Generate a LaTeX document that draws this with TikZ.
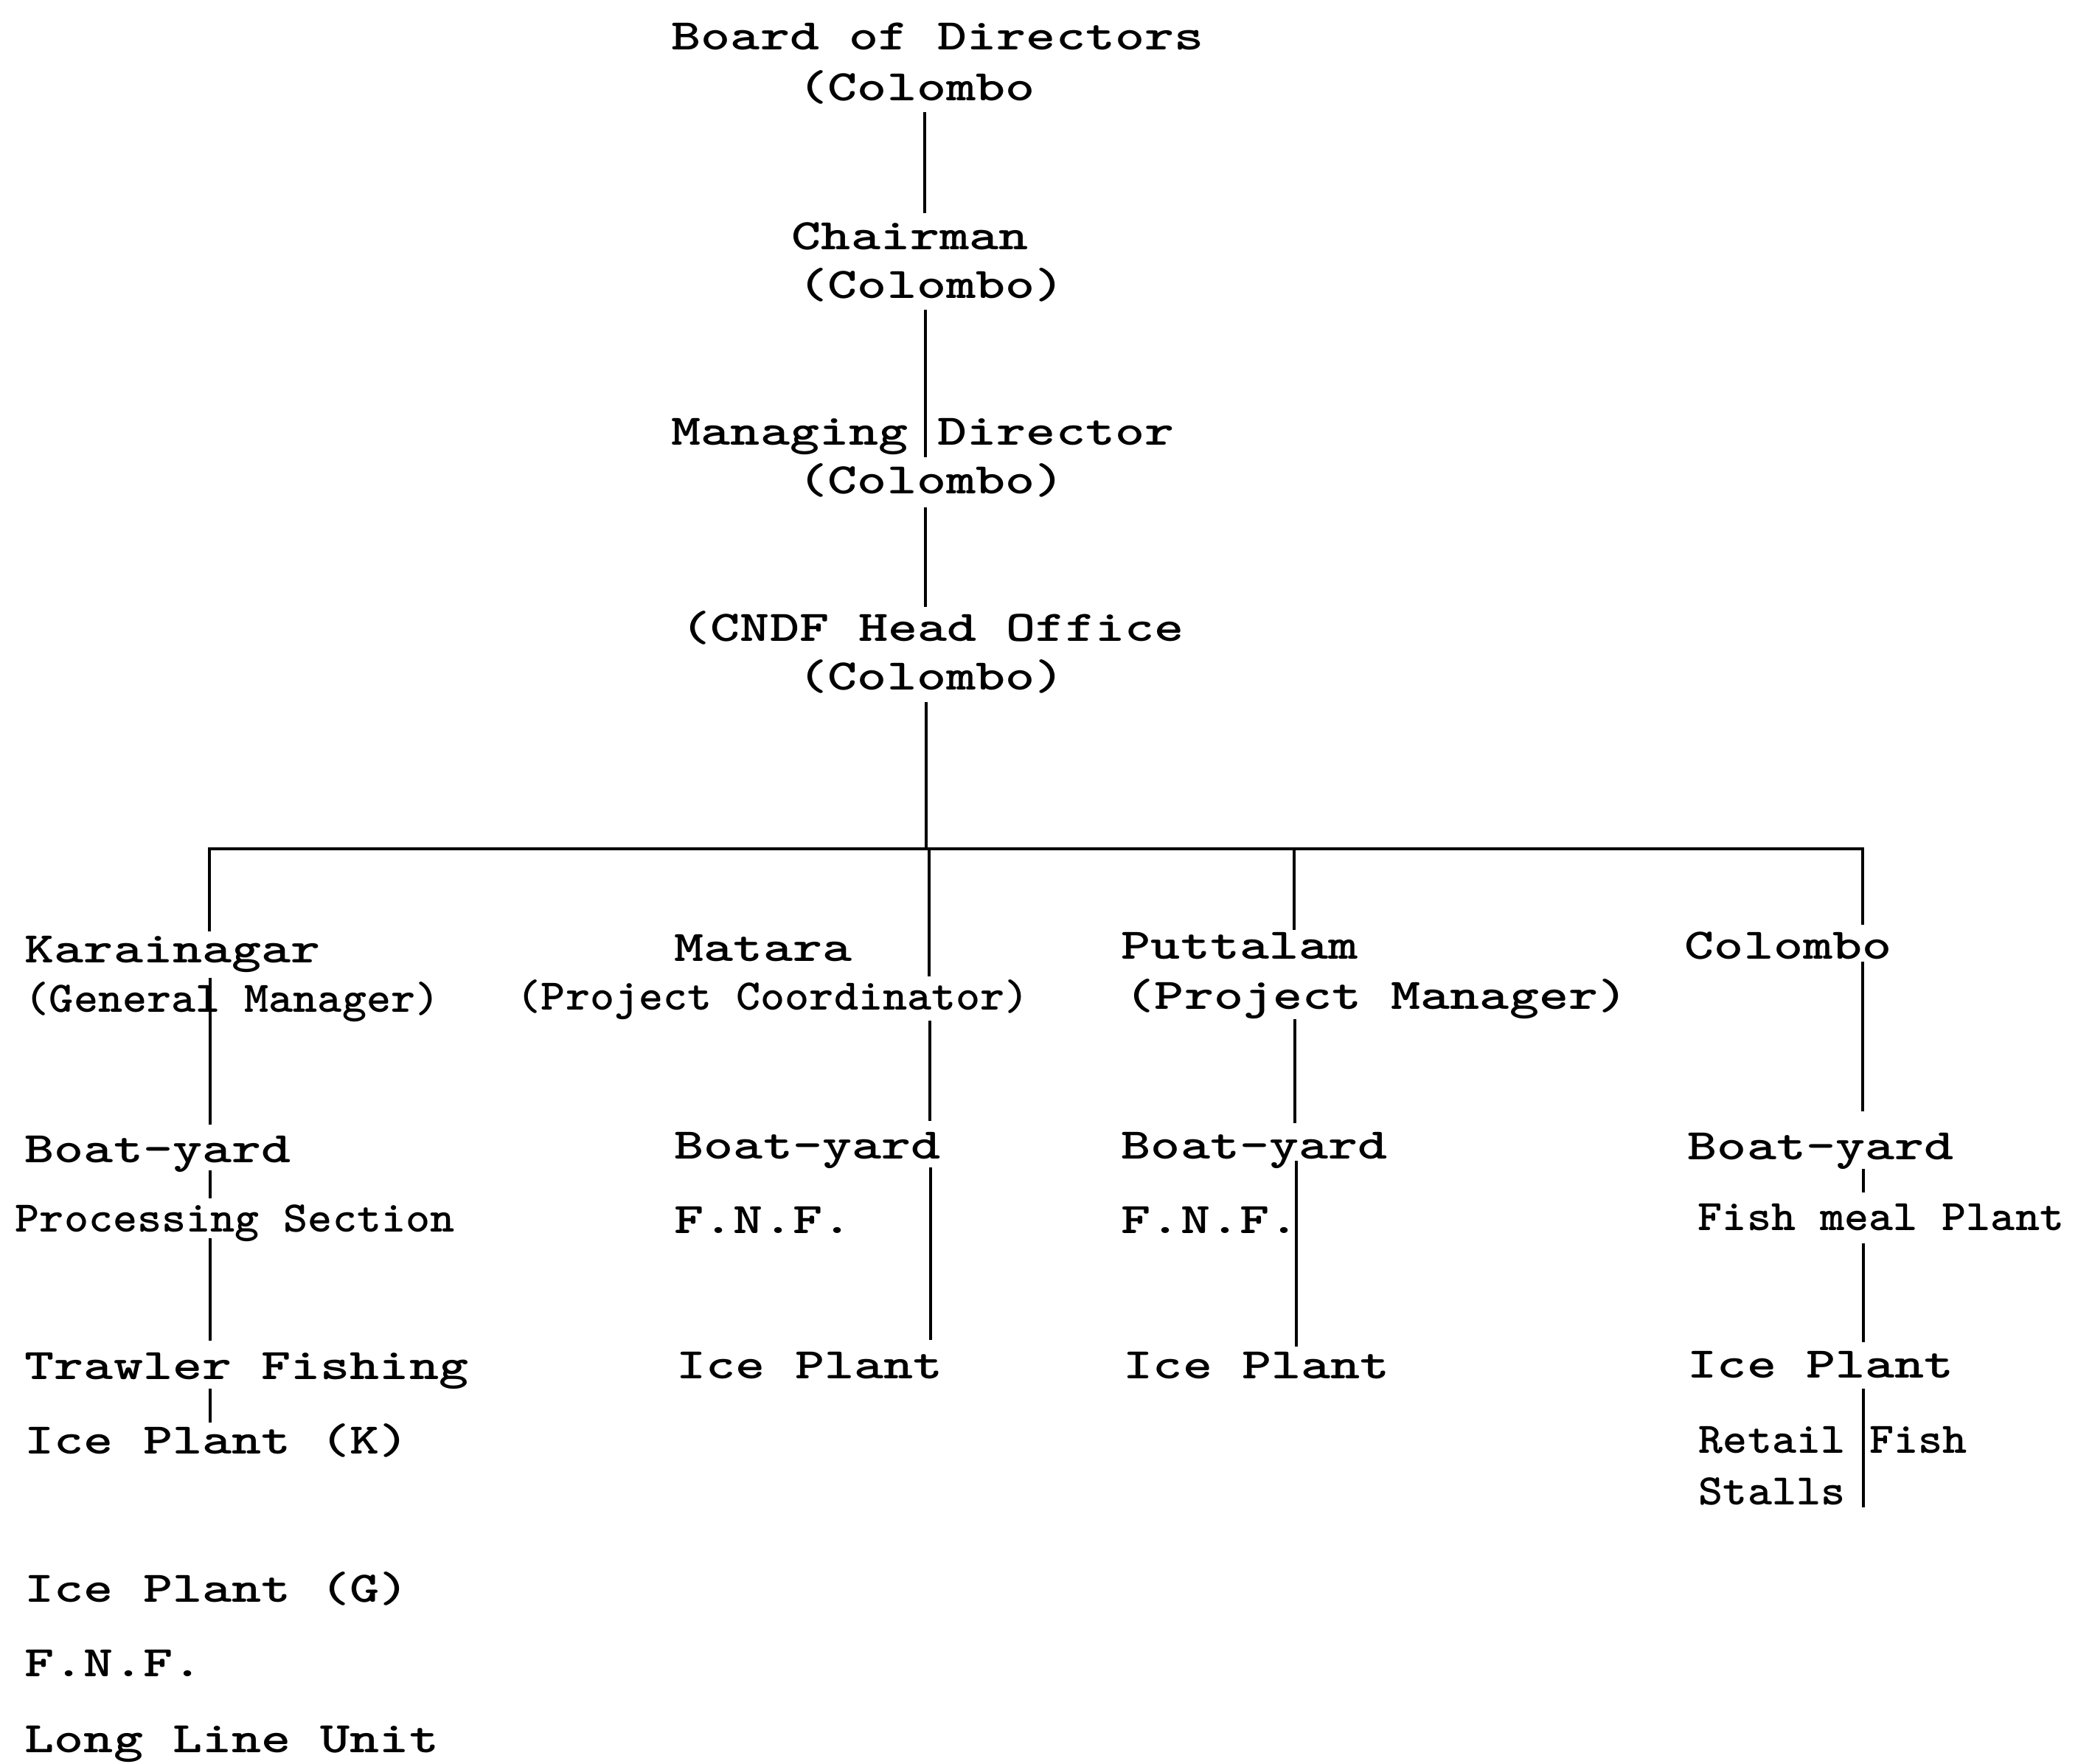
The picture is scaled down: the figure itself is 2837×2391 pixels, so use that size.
\documentclass[tikz,border=0pt]{standalone}
\usepackage{fontspec}
\newfontfamily\tw{lmmonolt10-bold.otf}[FakeStretch=1.29]
\newfontfamily\twn{lmmonolt10-bold.otf}[FakeStretch=1.065]
\begin{document}
\begin{tikzpicture}[x=0.25pt,y=-0.25pt,
  lbl/.style={anchor=base west, inner sep=0pt, font=\fontsize{14.8pt}{16pt}\tw},
  nlbl/.style={anchor=base west, inner sep=0pt, font=\fontsize{14.8pt}{16pt}\twn},
  conn/.style={line width=0.9pt},
  barline/.style={line width=1.1pt}]
\useasboundingbox (0,0) rectangle (2837,2391);
\fill[white] (0,0) rectangle (2837,2391);
% top chain
\node[lbl] (board) at (910,67) {Board of Directors};
\node[lbl] (boardc) at (1082,136) {(Colombo};
\node[lbl] (chair) at (1073,338) {Chairman};
\node[lbl] (chairc) at (1082,404) {(Colombo)};
\node[lbl] (md) at (910,603) {Managing Director};
\node[lbl] (mdc) at (1082,669) {(Colombo)};
\node[lbl] (cndf) at (923,869) {(CNDF Head Office};
\node[lbl] (cndfc) at (1082,935) {(Colombo)};
% Karainagar
\node[lbl] (kar) at (33,1305) {Karainagar};
\node[nlbl] (karm) at (33,1372) {(General Manager)};
\node[lbl] (kby) at (33,1576) {Boat-yard};
\node[nlbl] (kps) at (20,1670) {Processing Section};
\node[lbl] (ktf) at (33,1870) {Trawler Fishing};
\node[lbl] (kipk) at (33,1971) {Ice Plant (K)};
\node[lbl] (kipg) at (33,2172) {Ice Plant (G)};
\node[lbl] (kfnf) at (33,2273) {F.N.F.};
\node[lbl] (kllu) at (33,2376) {Long Line Unit};
% Matara
\node[lbl] (mat) at (914,1303) {Matara};
\node[nlbl] (matm) at (700,1369) {(Project Coordinator)};
\node[lbl] (mby) at (914,1571) {Boat-yard};
\node[lbl] (mfnf) at (914,1672) {F.N.F.};
\node[lbl] (mip) at (917,1869) {Ice Plant};
% Puttalam
\node[lbl] (put) at (1520,1300) {Puttalam};
\node[lbl] (putm) at (1525,1368) {(Project Manager)};
\node[lbl] (pby) at (1520,1571) {Boat-yard};
\node[lbl] (pfnf) at (1520,1672) {F.N.F.};
\node[lbl] (pip) at (1523,1869) {Ice Plant};
% Colombo
\node[lbl] (col) at (2284,1300) {Colombo};
\node[lbl] (cby) at (2288,1572) {Boat-yard};
\node[nlbl] (cfm) at (2302,1668) {Fish meal Plant};
\node[lbl] (cip) at (2288,1868) {Ice Plant};
\node[nlbl] (crf) at (2303,1970) {Retail Fish};
\node[nlbl] (cst) at (2303,2040) {Stalls};
% coordinates
\coordinate (t1a) at (1254,152); \coordinate (t1b) at (1254,289);
\coordinate (t2a) at (1255,420); \coordinate (t2b) at (1255,620);
\coordinate (t3a) at (1255,688); \coordinate (t3b) at (1255,823);
\coordinate (t4a) at (1256,952); \coordinate (t4b) at (1256,1151);
\coordinate (barL) at (284,1151); \coordinate (barR) at (2526,1151);
\coordinate (k1) at (284,1263);
\coordinate (k2a) at (285,1326); \coordinate (k2b) at (285,1525);
\coordinate (k3a) at (285,1587); \coordinate (k3b) at (285,1625);
\coordinate (k4a) at (285,1679); \coordinate (k4b) at (285,1818);
\coordinate (k5a) at (285,1883); \coordinate (k5b) at (285,1929);
\coordinate (m1a) at (1260,1151); \coordinate (m1b) at (1260,1324);
\coordinate (m2a) at (1261,1384); \coordinate (m2b) at (1261,1520);
\coordinate (m3a) at (1262,1583); \coordinate (m3b) at (1262,1817);
\coordinate (p1a) at (1755,1151); \coordinate (p1b) at (1755,1261);
\coordinate (p2a) at (1756,1382); \coordinate (p2b) at (1756,1523);
\coordinate (p3a) at (1758,1574); \coordinate (p3b) at (1758,1826);
\coordinate (c1) at (2526,1254);
\coordinate (c2a) at (2526,1304); \coordinate (c2b) at (2526,1507);
\coordinate (c3a) at (2527,1585); \coordinate (c3b) at (2527,1617);
\coordinate (c4a) at (2527,1686); \coordinate (c4b) at (2527,1820);
\coordinate (c5a) at (2527,1883); \coordinate (c5b) at (2527,2044);
% connectors
\draw[conn] (t1a) -- (t1b);
\draw[conn] (t2a) -- (t2b);
\draw[conn] (t3a) -- (t3b);
\draw[conn] (t4a) -- (t4b);
\draw[barline] (k1) -- (barL) -- (barR) -- (c1);
\draw[conn] (k2a) -- (k2b);
\draw[conn] (k3a) -- (k3b);
\draw[conn] (k4a) -- (k4b);
\draw[conn] (k5a) -- (k5b);
\draw[conn] (m1a) -- (m1b);
\draw[conn] (m2a) -- (m2b);
\draw[conn] (m3a) -- (m3b);
\draw[conn] (p1a) -- (p1b);
\draw[conn] (p2a) -- (p2b);
\draw[conn] (p3a) -- (p3b);
\draw[conn] (c2a) -- (c2b);
\draw[conn] (c3a) -- (c3b);
\draw[conn] (c4a) -- (c4b);
\draw[conn] (c5a) -- (c5b);
\end{tikzpicture}
\end{document}
